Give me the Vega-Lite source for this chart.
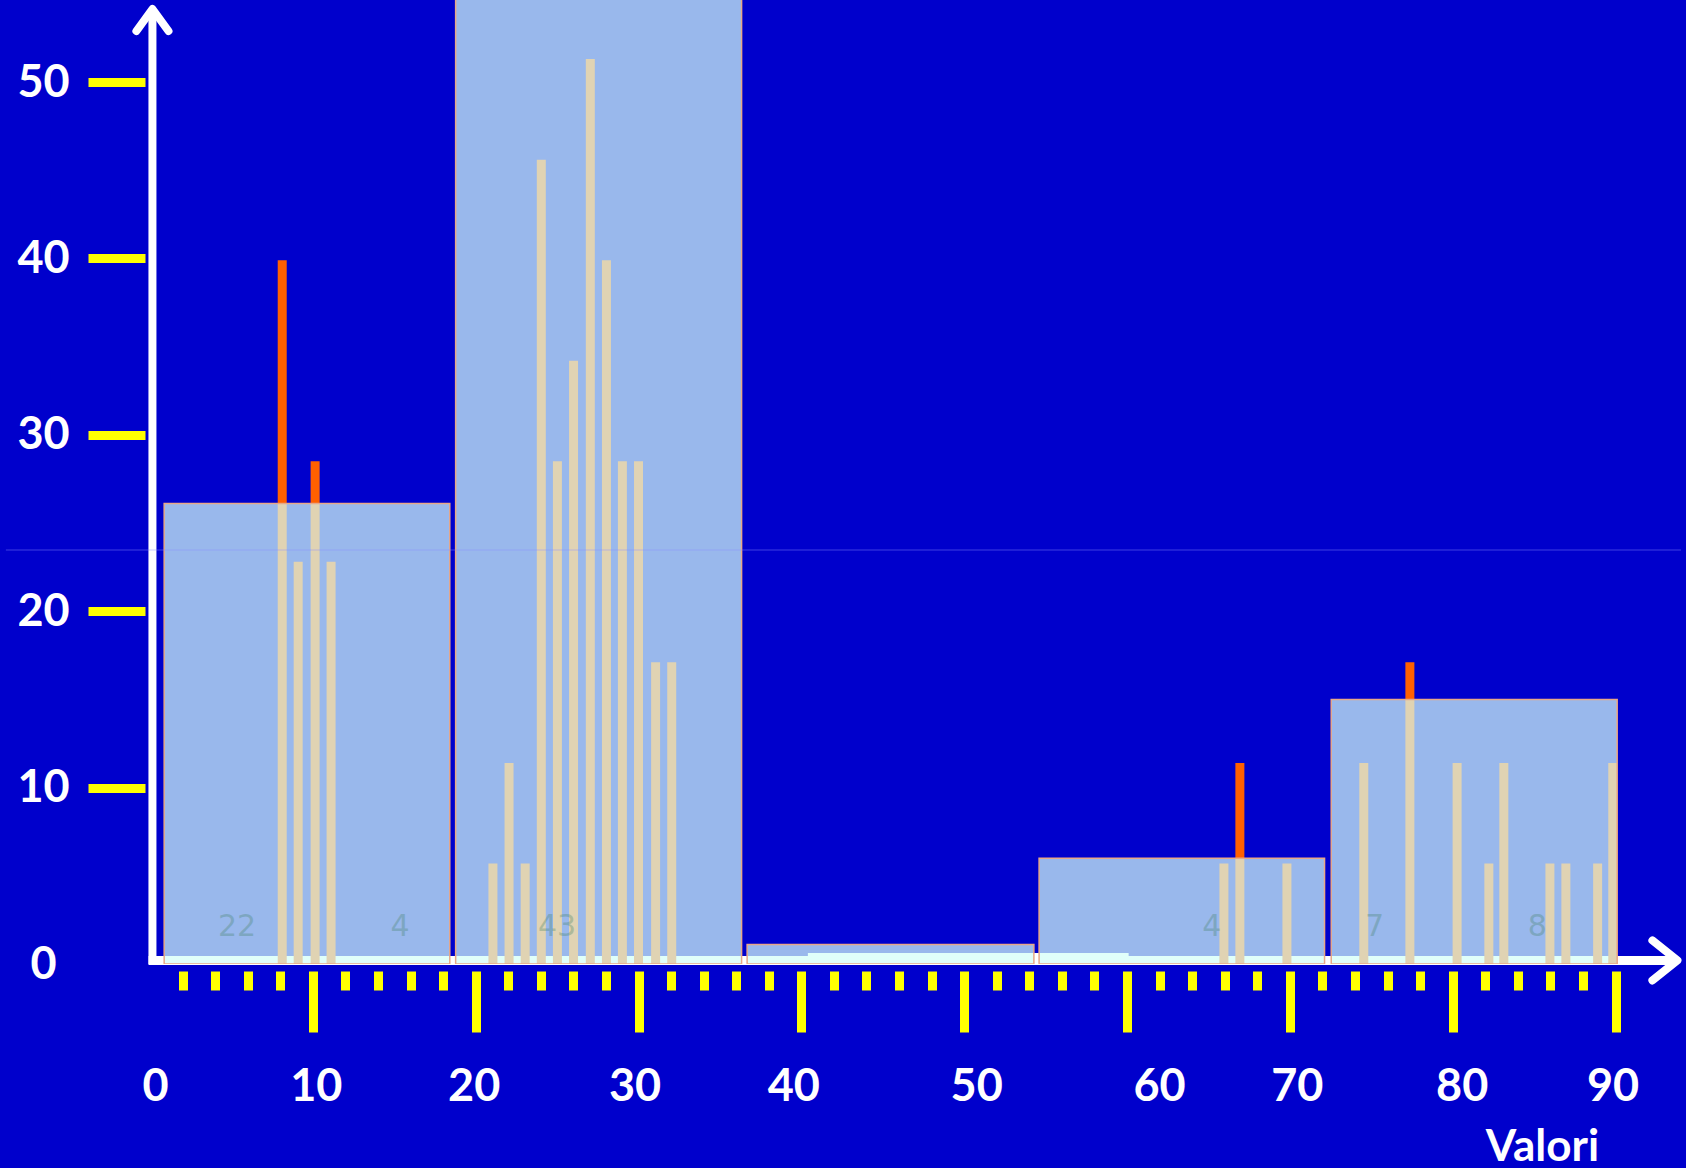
{
  "$schema": "https://vega.github.io/schema/vega-lite/v6.json",
  "width": 1541,
  "height": 964,
  "autosize": {"type": "none"},
  "padding": {"left": 145, "top": 0, "right": 0, "bottom": 204},
  "background": "#0000cc",
  "config": {
    "view": {"stroke": null},
    "axis": {
      "grid": false,
      "domain": false,
      "labelColor": "white",
      "labelFont": "Lato",
      "labelFontWeight": "bold",
      "labelFontSize": 45,
      "tickColor": "#ffff00",
      "tickWidth": 9,
      "tickCap": "butt"
    }
  },
  "datasets": {
    "bins": [
      {"x0": 0.87, "x1": 18.41, "h": 26.1},
      {"x0": 18.77, "x1": 36.33, "h": 60},
      {"x0": 36.67, "x1": 54.28, "h": 1.1},
      {"x0": 54.6, "x1": 72.13, "h": 6.0},
      {"x0": 72.54, "x1": 90.1, "h": 15.0}
    ],
    "bars": [
      {"x": 8.12, "h": 39.9},
      {"x": 9.1, "h": 22.8},
      {"x": 10.14, "h": 28.5},
      {"x": 11.12, "h": 22.8},
      {"x": 21.06, "h": 5.7},
      {"x": 22.05, "h": 11.4},
      {"x": 23.04, "h": 5.7},
      {"x": 24.03, "h": 45.6},
      {"x": 25.02, "h": 28.5},
      {"x": 26.01, "h": 34.2},
      {"x": 27.04, "h": 51.3},
      {"x": 28.03, "h": 39.9},
      {"x": 29.01, "h": 28.5},
      {"x": 30.0, "h": 28.5},
      {"x": 31.05, "h": 17.1},
      {"x": 32.04, "h": 17.1},
      {"x": 65.95, "h": 5.7},
      {"x": 66.93, "h": 11.4},
      {"x": 69.82, "h": 5.7},
      {"x": 74.54, "h": 11.4},
      {"x": 77.37, "h": 17.1},
      {"x": 80.27, "h": 11.4},
      {"x": 82.22, "h": 5.7},
      {"x": 83.14, "h": 11.4},
      {"x": 85.97, "h": 5.7},
      {"x": 86.95, "h": 5.7},
      {"x": 88.9, "h": 5.7},
      {"x": 89.83, "h": 11.4}
    ],
    "band": [
      {"a": 40.4, "b": 60.1, "h": 0.62}
    ],
    "labels": [
      {"x": 5.35, "t": "22"},
      {"x": 15.35, "t": "4"},
      {"x": 25.0, "t": "43"},
      {"x": 65.2, "t": "4"},
      {"x": 75.2, "t": "7"},
      {"x": 85.2, "t": "8"}
    ]
  },
  "layer": [
    {
      "data": {"values": [{}]},
      "mark": {"type": "rule", "color": "white", "strokeWidth": 9},
      "encoding": {
        "x": {"datum": -0.09, "type": "quantitative", "scale": {"domain": [0, 94.02], "nice": false, "zero": false}},
        "x2": {"datum": 93.6},
        "y": {"datum": 0.2, "type": "quantitative", "scale": {"domain": [0, 54.65], "nice": false, "zero": false}}
      }
    },
    {
      "data": {"values": [{}]},
      "mark": {"type": "rule", "color": "white", "strokeWidth": 8},
      "encoding": {
        "x": {"datum": 0.15, "type": "quantitative", "scale": {"domain": [0, 94.02], "nice": false, "zero": false}},
        "y": {"datum": 0, "type": "quantitative", "scale": {"domain": [0, 54.65], "nice": false, "zero": false}},
        "y2": {"datum": 54.0}
      }
    },
    {
      "data": {"name": "band"},
      "mark": {"type": "rect", "color": "white"},
      "encoding": {
        "x": {"field": "a", "type": "quantitative", "scale": {"domain": [0, 94.02], "nice": false, "zero": false}},
        "x2": {"field": "b"},
        "y": {"field": "h", "type": "quantitative", "scale": {"domain": [0, 54.65], "nice": false, "zero": false}},
        "y2": {"datum": 0}
      }
    },
    {
      "data": {"name": "bars"},
      "mark": {"type": "bar", "color": "#ff6000", "width": 9, "orient": "vertical"},
      "encoding": {
        "x": {"field": "x", "type": "quantitative", "scale": {"domain": [0, 94.02], "nice": false, "zero": false}},
        "y": {"field": "h", "type": "quantitative", "stack": null, "scale": {"domain": [0, 54.65], "nice": false, "zero": false}}
      }
    },
    {
      "data": {"name": "bins"},
      "mark": {"type": "rect", "fill": "#d4fff8", "fillOpacity": 0.72, "stroke": "#e8a888", "strokeWidth": 1.5, "clip": true},
      "encoding": {
        "x": {
          "field": "x0", "type": "quantitative",
          "scale": {"domain": [0, 94.02], "nice": false, "zero": false},
          "axis": {
            "values": [0, 2, 4, 6, 8, 10, 12, 14, 16, 18, 20, 22, 24, 26, 28, 30, 32, 34, 36, 38, 40, 42, 44, 46, 48, 50, 52, 54, 56, 58, 60, 62, 64, 66, 68, 70, 72, 74, 76, 78, 80, 82, 84, 86, 88, 90],
            "tickCount": 200,
            "format": "d",
            "offset": 7,
            "tickSize": {"condition": {"test": "datum.value % 10 === 0", "value": 61}, "value": 19},
            "tickOpacity": {"condition": {"test": "datum.value === 0", "value": 0}, "value": 1},
            "labelExpr": "datum.value % 10 === 0 ? datum.label : ''",
            "labelOffset": {"condition": [
              {"test": "datum.value === 0", "value": 5},
              {"test": "datum.value === 10", "value": 3},
              {"test": "datum.value === 20", "value": -2},
              {"test": "datum.value === 30", "value": -4},
              {"test": "datum.value === 40", "value": -8},
              {"test": "datum.value === 50", "value": 12},
              {"test": "datum.value === 60", "value": 32},
              {"test": "datum.value === 70", "value": 7},
              {"test": "datum.value === 80", "value": 9},
              {"test": "datum.value === 90", "value": -3}
            ], "value": 0},
            "labelPadding": 32,
            "labelOverlap": false,
            "labelFlush": false,
            "title": "Valori",
            "titleX": 1397,
            "titleY": 189,
            "titleAlign": "center",
            "titleBaseline": "alphabetic",
            "titleFontSize": 44,
            "titleColor": "white",
            "titleFont": "Lato",
            "titleFontWeight": "bold"
          }
        },
        "x2": {"field": "x1"},
        "y": {
          "field": "h", "type": "quantitative",
          "scale": {"domain": [0, 54.65], "nice": false, "zero": false},
          "axis": {
            "values": [0, 10, 20, 30, 40, 50],
            "tickCount": 20,
            "format": "d",
            "tickSize": 57,
            "tickOpacity": {"condition": {"test": "datum.value === 0", "value": 0}, "value": 1},
            "labelAlign": "center",
            "labelBaseline": "middle",
            "labelPadding": 45,
            "title": null
          }
        },
        "y2": {"datum": 0}
      }
    },
    {
      "data": {"name": "labels"},
      "mark": {"type": "text", "color": "#3f7f5f", "opacity": 0.3, "fontSize": 30, "font": "DejaVu Sans", "baseline": "middle", "align": "center"},
      "encoding": {
        "x": {"field": "x", "type": "quantitative", "scale": {"domain": [0, 94.02], "nice": false, "zero": false}},
        "y": {"datum": 2.1, "type": "quantitative", "scale": {"domain": [0, 54.65], "nice": false, "zero": false}},
        "text": {"field": "t"}
      }
    },
    {
      "data": {"values": [{}]},
      "mark": {"type": "rule", "color": "#8c8cff", "strokeWidth": 1, "opacity": 0.45},
      "encoding": {
        "x": {"datum": -8.85, "type": "quantitative", "scale": {"domain": [0, 94.02], "nice": false, "zero": false}},
        "x2": {"datum": 94.02},
        "y": {"datum": 23.47, "type": "quantitative", "scale": {"domain": [0, 54.65], "nice": false, "zero": false}}
      }
    },
    {
      "data": {"values": [{}]},
      "mark": {"type": "point", "shape": "M-1,1.375L0,0L1,1.375", "size": 1024, "filled": false, "stroke": "white", "strokeWidth": 8, "strokeCap": "round", "strokeJoin": "round", "opacity": 1},
      "encoding": {
        "x": {"datum": 0.15, "type": "quantitative", "scale": {"domain": [0, 94.02], "nice": false, "zero": false}},
        "y": {"datum": 54.14, "type": "quantitative", "scale": {"domain": [0, 54.65], "nice": false, "zero": false}}
      }
    },
    {
      "data": {"values": [{}]},
      "mark": {"type": "point", "shape": "M-1.25,-1L0,0L-1.25,1", "size": 1600, "filled": false, "stroke": "white", "strokeWidth": 8, "strokeCap": "round", "strokeJoin": "round", "opacity": 1},
      "encoding": {
        "x": {"datum": 93.8, "type": "quantitative", "scale": {"domain": [0, 94.02], "nice": false, "zero": false}},
        "y": {"datum": 0.2, "type": "quantitative", "scale": {"domain": [0, 54.65], "nice": false, "zero": false}}
      }
    }
  ]
}
